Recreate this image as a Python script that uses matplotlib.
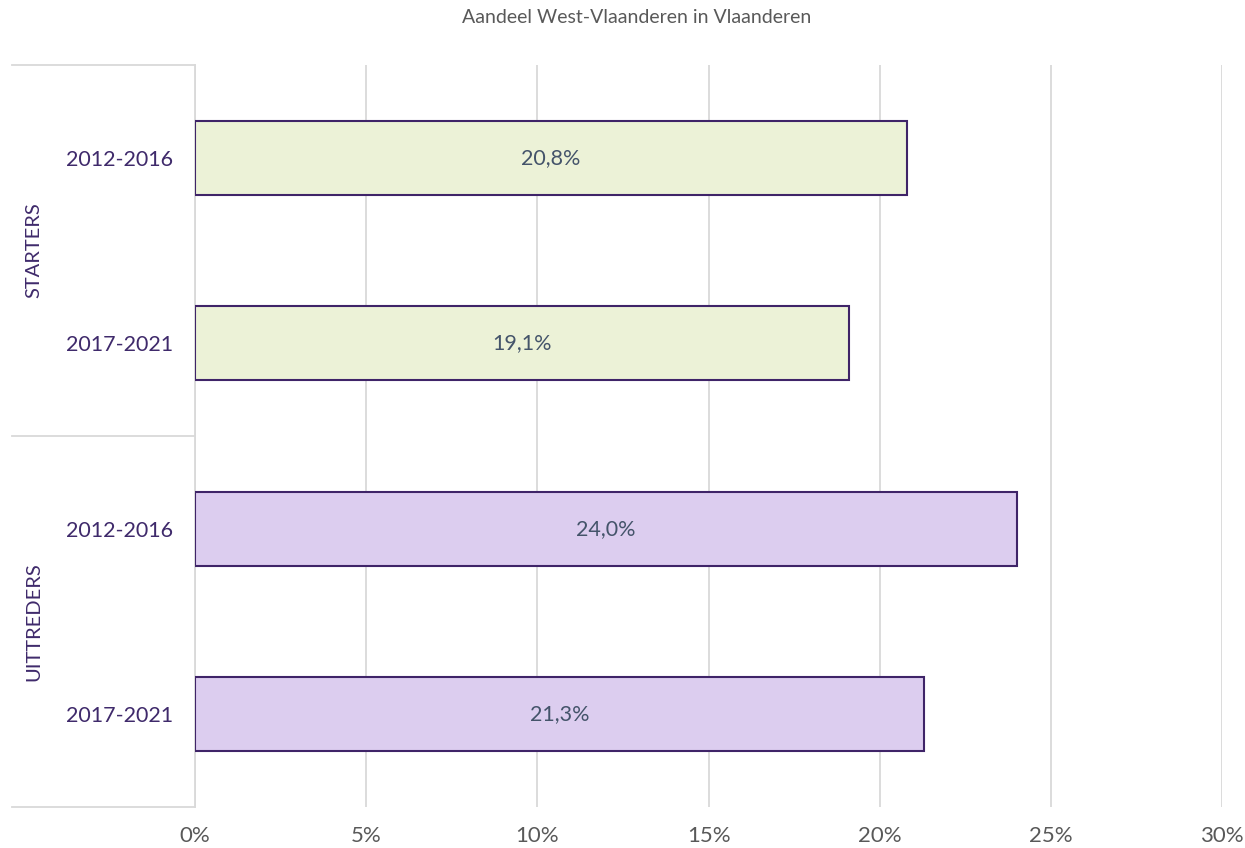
import numpy as np
import matplotlib.pyplot as plt
import matplotlib.transforms as mtransforms

plt.rcParams['font.family'] = ['Lato', 'DejaVu Sans']

groups = ['STARTERS', 'UITTREDERS']
periods = ['2012-2016', '2017-2021', '2012-2016', '2017-2021']
values = [20.8, 19.1, 24.0, 21.3]
labels = ['20,8%', '19,1%', '24,0%', '21,3%']
fills = ['#ECF2D7', '#ECF2D7', '#DCCDEF', '#DCCDEF']
title = 'Aandeel West-Vlaanderen in Vlaanderen'
xticks = [0, 5, 10, 15, 20, 25, 30]

fig = plt.figure(figsize=(12.45, 8.48), dpi=100)
ax = fig.add_axes([0.1566, 0.0483, 0.825, 0.875])

pos = np.arange(len(values))
ax.barh(pos, values, height=0.4, color=fills, edgecolor='#3F2468', linewidth=1.5, zorder=3)
for p, v, lab in zip(pos, values, labels):
    ax.text(v / 2, p, lab, ha='center', va='center', fontsize=15.5, color='#44546A', zorder=4)

ax.set_xlim(0, 30)
ax.set_ylim(3.5, -0.5)
ax.set_xticks(xticks)
ax.set_xticklabels([f'{t}%' for t in xticks], fontsize=16, color='#595959')
ax.set_yticks(pos)
ax.set_yticklabels(periods, fontsize=15.5, color='#3F2A6B')
ax.tick_params(axis='both', length=0)
ax.tick_params(axis='y', pad=16)
ax.tick_params(axis='x', pad=14)
ax.grid(axis='x', color='#D9D9D9', linewidth=1.3, zorder=0)
for s in ['top', 'right', 'bottom']:
    ax.spines[s].set_visible(False)
ax.spines['left'].set_color('#D9D9D9')
ax.spines['left'].set_linewidth(1.3)

# group separators and group labels on the left
trans = mtransforms.blended_transform_factory(ax.transAxes, ax.transData)
for y in [-0.5, 1.5, 3.5]:
    ax.plot([-0.178, 0], [y, y], color='#D9D9D9', linewidth=1.3, transform=trans, clip_on=False)
for i, g in enumerate(groups):
    ax.text(-0.157, 2 * i + 0.5, g, rotation=90, ha='center', va='center',
            fontsize=14.5, color='#3F2A6B', transform=trans)

fig.text(0.511, 0.979, title, ha='center', va='center', fontsize=14, color='#595959')

fig.savefig('out.png', dpi=100)
